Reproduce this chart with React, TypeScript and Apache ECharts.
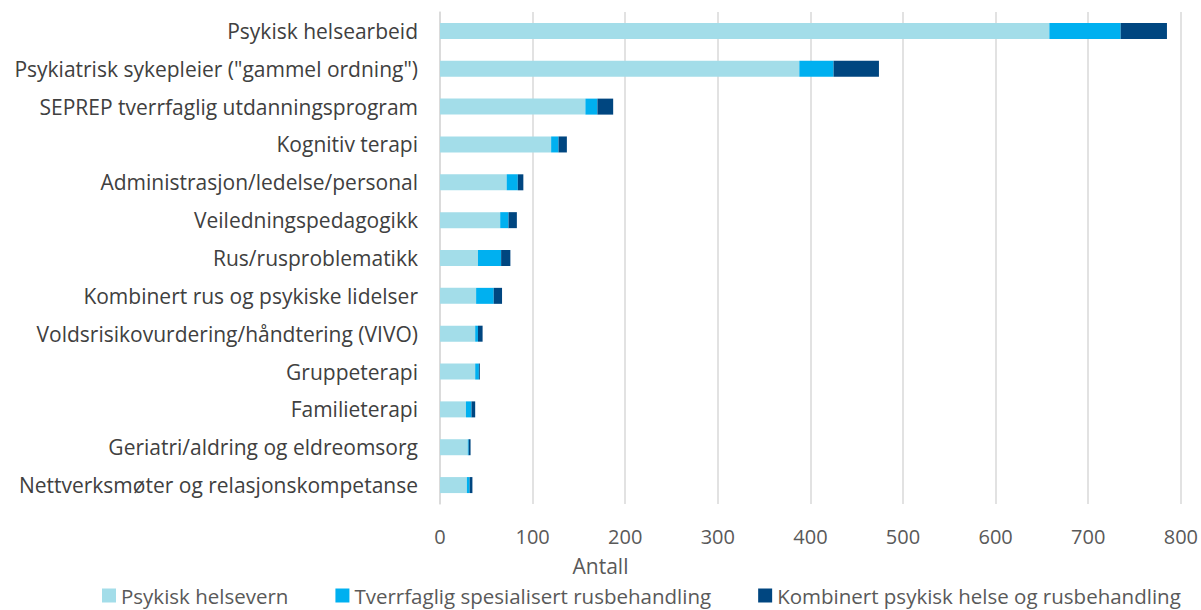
import React, { useEffect, useRef } from "react";
import * as echarts from "echarts";

const categories = [
  "Psykisk helsearbeid",
  "Psykiatrisk sykepleier (\"gammel ordning\")",
  "SEPREP tverrfaglig utdanningsprogram",
  "Kognitiv terapi",
  "Administrasjon/ledelse/personal",
  "Veiledningspedagogikk",
  "Rus/rusproblematikk",
  "Kombinert rus og psykiske lidelser",
  "Voldsrisikovurdering/håndtering (VIVO)",
  "Gruppeterapi",
  "Familieterapi",
  "Geriatri/aldring og eldreomsorg",
  "Nettverksmøter og relasjonskompetanse",
];

const psykiskHelsevern = [658, 388, 157, 120, 72, 65, 41, 39, 38, 38, 28, 30, 29];
const tverrfagligRus = [77, 37, 13, 8, 12, 9, 25, 19, 3, 4, 6, 1, 3];
const kombinert = [50, 49, 17, 9, 6, 9, 10, 9, 5, 1, 4, 2, 3];

const seriesNames = [
  "Psykisk helsevern",
  "Tverrfaglig spesialisert rusbehandling",
  "Kombinert psykisk helse og rusbehandling",
];
const axisTitle = "Antall";
const colors = ["#A3DDE9", "#00B0F0", "#004680"];

const FONT = "'Open Sans', 'Noto Sans', sans-serif";

export default function App() {
  const ref = useRef<HTMLDivElement>(null);
  useEffect(() => {
    if (!ref.current) return;
    const chart = echarts.init(ref.current, null, { renderer: "svg" });
    const dataSets = [psykiskHelsevern, tverrfagligRus, kombinert];
    chart.setOption({
      animation: false,
      color: colors,
      grid: { left: 440, right: 20, top: 12, bottom: 106, containLabel: false },
      legend: {
        top: 585,
        left: 102,
        padding: 0,
        itemWidth: 14,
        itemHeight: 14,
        itemGap: 47,
        icon: "rect",
        textStyle: { fontFamily: FONT, fontSize: 20.5, color: "#595959" },
        data: seriesNames,
      },
      graphic: [
        {
          type: "text",
          left: "center",
          top: 555,
          style: { text: axisTitle, fontFamily: FONT, fontSize: 21, fill: "#595959" },
        },
      ],
      xAxis: {
        type: "value",
        min: 0,
        max: 800,
        interval: 100,
        axisLine: { show: false },
        axisTick: { show: false },
        axisLabel: { fontFamily: FONT, fontSize: 20, color: "#595959", margin: 22 },
        splitLine: { show: true, lineStyle: { color: "#D9D9D9", width: 1.5 } },
      },
      yAxis: {
        type: "category",
        inverse: true,
        data: categories,
        axisLine: { show: true, lineStyle: { color: "#D9D9D9", width: 1.5 } },
        axisTick: { show: false },
        axisLabel: { fontFamily: FONT, fontSize: 21, color: "#404040", margin: 22 },
      },
      series: seriesNames.map((name, i) => ({
        name,
        type: "bar",
        stack: "total",
        barWidth: 16,
        data: dataSets[i],
        itemStyle: { color: colors[i] },
      })),
    });
    return () => chart.dispose();
  }, []);
  return (
    <div
      ref={ref}
      style={{ position: "absolute", left: 0, top: 0, width: 1201, height: 610 }}
    />
  );
}
